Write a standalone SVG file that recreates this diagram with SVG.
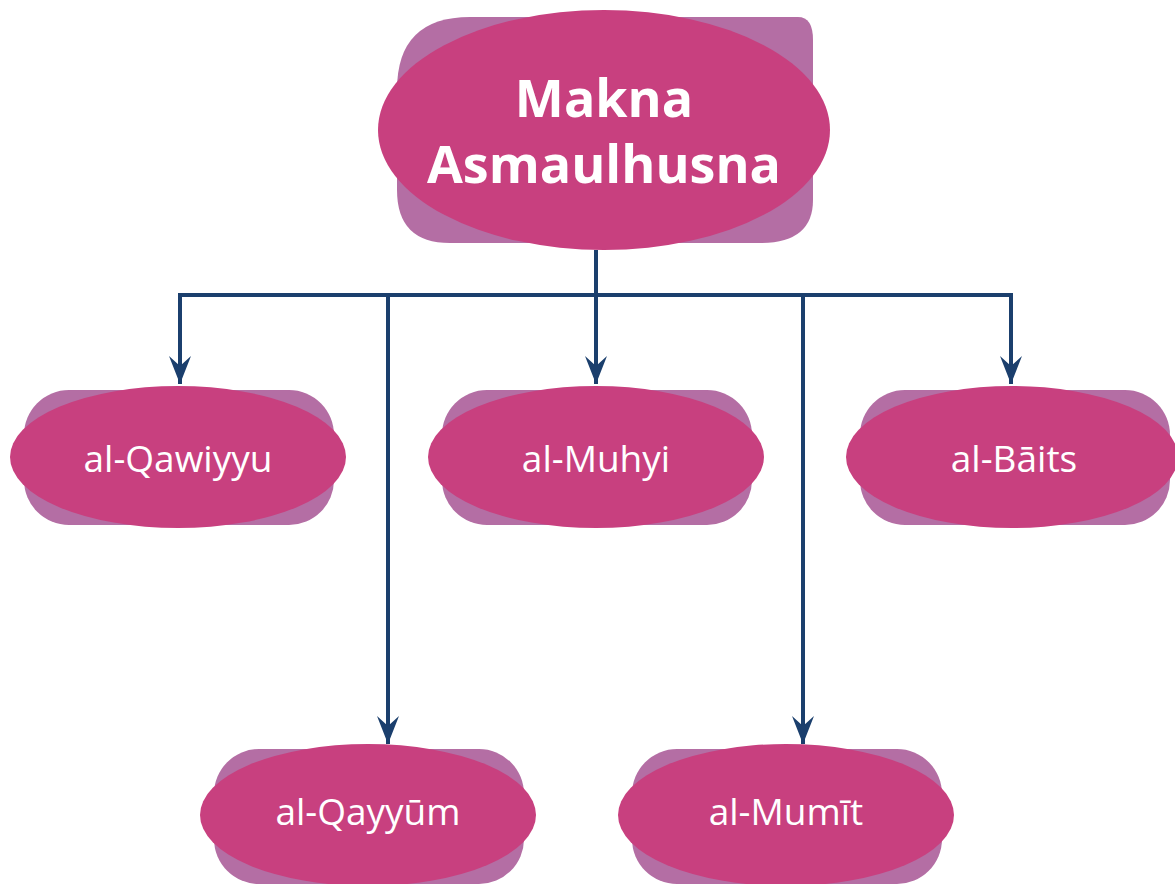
<svg xmlns="http://www.w3.org/2000/svg" width="1175" height="884" viewBox="0 0 1175 884">
<style>
.bg{fill:#b46ea4}
.fg{fill:#c8407f}
.t{fill:#fff;font-family:"Open Sans","Noto Sans",sans-serif;text-anchor:middle}
.title{font-size:52px;font-weight:700}
.lbl{font-size:37px}
.c{fill:none;stroke:#1b3f6d;stroke-width:4;stroke-linejoin:miter}
</style>
<defs>
<marker id="ah" markerUnits="userSpaceOnUse" markerWidth="32" markerHeight="26" viewBox="-30 -13 32 26" refX="0" refY="0" orient="auto">
<path d="M0,0 L-28,-11 L-18,0 L-28,11 Z" fill="#1b3f6d"/>
</marker>
</defs>
<g id="connectors">
<path class="c" d="M596,250 V295"/>
<path class="c" d="M180,384 V295 H1011 V384" marker-end="url(#ah)"/>
<path class="c" d="M180,295 V384" marker-end="url(#ah)"/>
<path class="c" d="M388,295 V744" marker-end="url(#ah)"/>
<path class="c" d="M596,295 V384" marker-end="url(#ah)"/>
<path class="c" d="M803,295 V744" marker-end="url(#ah)"/>
</g>
<g id="root">
<path class="bg" d="M470,17 H798 Q813,17 813,40 V200 Q813,243 760,243 H450 Q397,243 397,190 V90 Q397,17 470,17 Z"/>
<ellipse class="fg" cx="604" cy="130" rx="226" ry="120"/>
<text class="t title" x="604" y="117">Makna</text>
<text class="t title" x="604" y="183">Asmaulhusna</text>
</g>
<g id="n1">
<rect class="bg" x="24" y="390" width="310" height="135" rx="45"/>
<ellipse class="fg" cx="178" cy="457" rx="168" ry="71"/>
<text class="t lbl" x="178" y="472">al-Qawiyyu</text>
</g>
<g id="n2">
<rect class="bg" x="442" y="390" width="310" height="135" rx="45"/>
<ellipse class="fg" cx="596" cy="457" rx="168" ry="71"/>
<text class="t lbl" x="596" y="472">al-Muhyi</text>
</g>
<g id="n3">
<rect class="bg" x="860" y="390" width="310" height="135" rx="45"/>
<ellipse class="fg" cx="1012" cy="457" rx="166" ry="71"/>
<text class="t lbl" x="1014" y="472">al-Bāits</text>
</g>
<g id="n4">
<rect class="bg" x="214" y="749" width="310" height="135" rx="45"/>
<ellipse class="fg" cx="368" cy="815" rx="168" ry="71"/>
<text class="t lbl" x="368" y="825">al-Qayyūm</text>
</g>
<g id="n5">
<rect class="bg" x="632" y="749" width="310" height="135" rx="45"/>
<ellipse class="fg" cx="786" cy="815" rx="168" ry="71"/>
<text class="t lbl" x="786" y="825">al-Mumīt</text>
</g>
</svg>
